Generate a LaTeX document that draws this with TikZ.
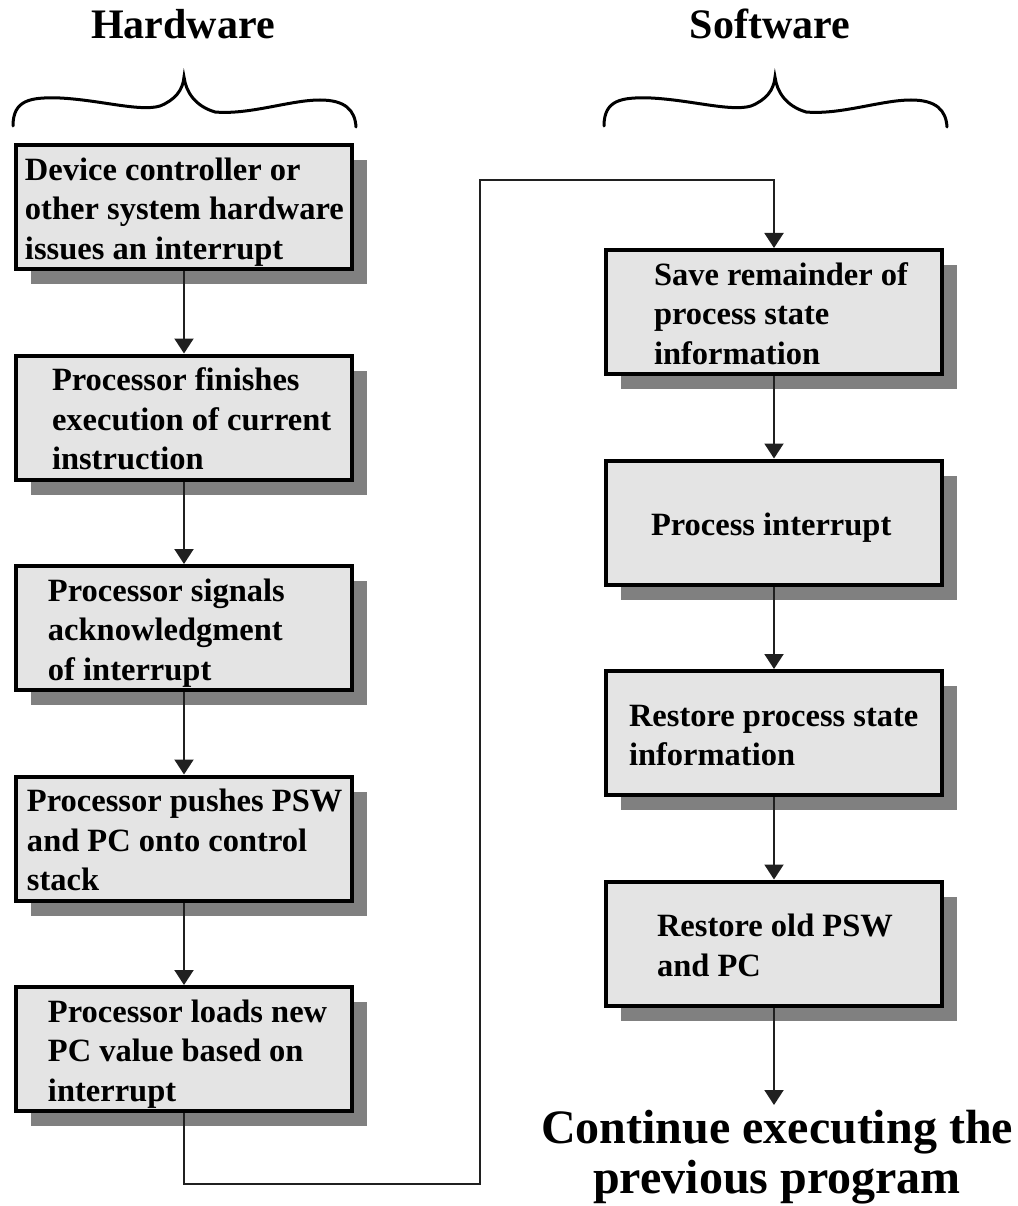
\documentclass[tikz,border=0pt]{standalone}
\usepackage{fontspec}
\setmainfont{Liberation Serif}
\usetikzlibrary{arrows.meta,shadows}
\definecolor{boxfill}{HTML}{E4E4E4}
\definecolor{shadowgray}{HTML}{808080}
\definecolor{linegray}{HTML}{202020}
\newcommand\bxt[2]{\raisebox{-5pt}[\height][\depth]{\makebox[336pt][l]{\hspace*{#1}\begin{tabular}{@{}l@{}}#2\end{tabular}}}}
\begin{document}
\begin{tikzpicture}[x=1pt,y=-1pt,
  stepbox/.style={draw=black, line width=4pt, fill=boxfill,
    minimum width=336pt, minimum height=124pt, inner sep=0pt,
    font=\fontsize{32.5}{39.5}\selectfont\bfseries,
    general shadow={fill=shadowgray, shadow xshift=15pt, shadow yshift=-15pt}},
  flow/.style={draw=linegray, line width=2pt, -{Triangle[width=19pt,length=15pt]}},
  title/.style={anchor=base, inner sep=0pt, font=\fontsize{42}{48}\selectfont\bfseries},
  bracepic/.pic={\draw[line width=3pt, line cap=round]
    (13,126) .. controls (13,100) and (30,97) .. (60,98)
    .. controls (100,100) and (140,112) .. (160,106)
    .. controls (175,100) and (183,90) .. (184,77)
    .. controls (186,92) and (195,106) .. (215,112)
    .. controls (250,115) and (290,100) .. (320,100)
    .. controls (345,100) and (355,110) .. (356,127);}
]
\useasboundingbox (0,0) rectangle (1017,1206);

\node[title] (hw) at (183,39) {Hardware};
\node[title] (sw) at (770,39) {Software};
\pic (brh) at (0,0) {bracepic};
\pic (brs) at (591,0) {bracepic};

\node[stepbox] (b1) at (184,207) {\bxt{9pt}{Device controller or\\other system hardware\\issues an interrupt}};
\node[stepbox] (b2) at (184,417.5) {\bxt{36pt}{Processor finishes\\execution of current\\instruction}};
\node[stepbox] (b3) at (184,628) {\bxt{32pt}{Processor signals\\acknowledgment\\of interrupt}};
\node[stepbox] (b4) at (184,838.5) {\bxt{11pt}{Processor pushes PSW\\and PC onto control\\stack}};
\node[stepbox] (b5) at (184,1049) {\bxt{32pt}{Processor loads new\\PC value based on\\interrupt}};

\node[stepbox] (r1) at (774,312) {\bxt{48pt}{Save remainder of\\process state\\information}};
\node[stepbox] (r2) at (774,522.5) {\bxt{45pt}{Process interrupt}};
\node[stepbox] (r3) at (774,733) {\bxt{23pt}{Restore process state\\information}};
\node[stepbox] (r4) at (774,943.5) {\bxt{51pt}{Restore old PSW\\and PC}};

\node[anchor=base, align=center, inner sep=0pt, font=\fontsize{48}{50}\selectfont\bfseries] (cont) at (777,1193) {Continue executing the\\previous program};

\draw[flow] (b1.south) -- (b2.north);
\draw[flow] (b2.south) -- (b3.north);
\draw[flow] (b3.south) -- (b4.north);
\draw[flow] (b4.south) -- (b5.north);
\coordinate (j1) at (480,1184);
\coordinate (j2) at (480,180);
\draw[flow] (b5.south) |- (j1) -- (j2) -| (r1.north);
\draw[flow] (r1.south) -- (r2.north);
\draw[flow] (r2.south) -- (r3.north);
\draw[flow] (r3.south) -- (r4.north);
\coordinate (endp) at (774,1105);
\draw[flow] (r4.south) -- (endp);
\end{tikzpicture}
\end{document}
